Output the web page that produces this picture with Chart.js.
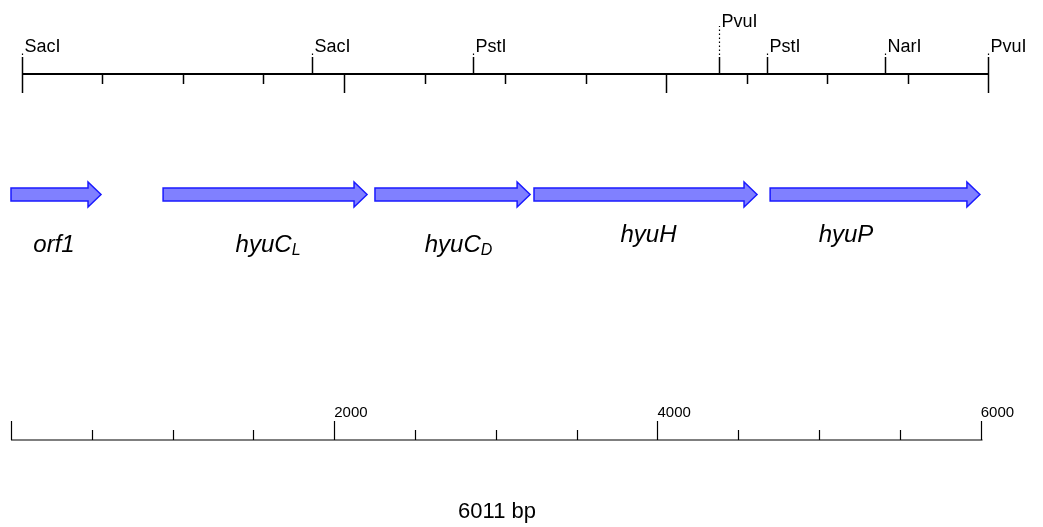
<!DOCTYPE html>
<html>
<head>
<meta charset="utf-8">
<script src="https://cdn.jsdelivr.net/npm/chart.js@4"></script>
<style>
  body { margin: 0; background: #fff; }
  canvas { display: block; }
</style>
</head>
<body>
<canvas id="mapa" width="1043" height="527"></canvas>
<script>
// plasmid length and restriction sites (bp)
var totalBp = 6011;
var siteNames = ['SacI', 'SacI', 'PstI', 'PvuI', 'PstI', 'NarI', 'PvuI'];
var sitePos = [0, 1801, 2801, 4329, 4627, 5360, 6000];

// genes (bp)
var geneNames = ['orf1', 'hyuC', 'hyuC', 'hyuH', 'hyuP'];
var geneSub = ['', 'L', 'D', '', ''];
var geneStart = [0, 941, 2252, 3236, 4697];
var geneEnd = [557, 2203, 3212, 4616, 5995];

// ruler
var tickStep = 500;
var rulerLabels = [2000, 4000, 6000];
var sizeLabel = '6011 bp';

window.addEventListener('load', function(){

    var FONT = '"Liberation Sans", Arial, sans-serif';
    // style only: which site label sits higher, label nudges for genes
    var raised = [false, false, false, true, false, false, false];
    var labelShift = [-2, 3, 6, 3, -29];
    var labelBase = [252, 252, 252, 242, 242];

    var mapPlugin = {
        id: 'mapa',
        afterDraw: function(chart){
            var ctx = chart.ctx;
            var xb = chart.scales.x;
            var xt = chart.scales.xt;
            ctx.save();
            ctx.strokeStyle = '#000';
            ctx.fillStyle = '#000';

            // top ruler
            var yTop = 74;
            ctx.lineWidth = 2;
            ctx.beginPath();
            ctx.moveTo(xt.getPixelForValue(0), yTop);
            ctx.lineTo(xt.getPixelForValue(6000), yTop);
            ctx.stroke();
            ctx.lineWidth = 1.5;
            for (var v = 0; v <= 6000; v += tickStep) {
                var x = Math.round(xt.getPixelForValue(v)) + 0.5;
                ctx.beginPath();
                ctx.moveTo(x, yTop);
                ctx.lineTo(x, yTop + (v % 2000 === 0 ? 19 : 10));
                ctx.stroke();
            }

            // restriction sites
            ctx.font = '18px ' + FONT;
            ctx.textBaseline = 'alphabetic';
            ctx.textAlign = 'left';
            siteNames.forEach(function(name, i){
                var x = Math.round(xt.getPixelForValue(sitePos[i])) + 0.5;
                var base = raised[i] ? 27 : 52;
                ctx.lineWidth = 1.5;
                ctx.setLineDash([]);
                ctx.beginPath();
                ctx.moveTo(x, yTop);
                ctx.lineTo(x, 57);
                ctx.stroke();
                ctx.lineWidth = 1.2;
                ctx.setLineDash([1.5, 2.5]);
                ctx.beginPath();
                ctx.moveTo(x, 55);
                ctx.lineTo(x, base - 1);
                ctx.stroke();
                ctx.setLineDash([]);
                ctx.fillText(name, x + 2, base);
            });

            // genes as arrows
            var yc = 194.5;
            geneNames.forEach(function(name, i){
                var x0 = xb.getPixelForValue(geneStart[i]);
                var x1 = xb.getPixelForValue(geneEnd[i]);
                var head = 13;
                ctx.beginPath();
                ctx.moveTo(x0, yc - 6.5);
                ctx.lineTo(x1 - head, yc - 6.5);
                ctx.lineTo(x1 - head, yc - 12.5);
                ctx.lineTo(x1, yc);
                ctx.lineTo(x1 - head, yc + 12.5);
                ctx.lineTo(x1 - head, yc + 6.5);
                ctx.lineTo(x0, yc + 6.5);
                ctx.closePath();
                ctx.fillStyle = '#8080ff';
                ctx.fill();
                ctx.lineWidth = 1.5;
                ctx.strokeStyle = '#1a1aff';
                ctx.stroke();

                // label
                ctx.fillStyle = '#000';
                var cx = (x0 + x1) / 2 + labelShift[i];
                ctx.font = 'italic 24px ' + FONT;
                var w = ctx.measureText(name).width;
                var subW = 0;
                if (geneSub[i]) {
                    ctx.font = 'italic 16px ' + FONT;
                    subW = ctx.measureText(geneSub[i]).width;
                }
                var left = cx - (w + subW) / 2;
                ctx.font = 'italic 24px ' + FONT;
                ctx.fillText(name, left, labelBase[i]);
                if (geneSub[i]) {
                    ctx.font = 'italic 16px ' + FONT;
                    ctx.fillText(geneSub[i], left + w, labelBase[i] + 3);
                }
            });

            // bottom ruler
            ctx.strokeStyle = '#000';
            var yBot = 440;
            ctx.lineWidth = 1.2;
            ctx.beginPath();
            ctx.moveTo(xb.getPixelForValue(0), yBot);
            ctx.lineTo(xb.getPixelForValue(totalBp), yBot);
            ctx.stroke();
            for (var b = 0; b <= 6000; b += tickStep) {
                var xx = Math.round(xb.getPixelForValue(b)) + 0.5;
                ctx.beginPath();
                ctx.moveTo(xx, yBot);
                ctx.lineTo(xx, yBot - (b % 2000 === 0 ? 19 : 10));
                ctx.stroke();
            }
            ctx.font = '15px ' + FONT;
            rulerLabels.forEach(function(r){
                ctx.fillText(String(r), xb.getPixelForValue(r), 417);
            });

            ctx.font = '22px ' + FONT;
            ctx.textAlign = 'center';
            ctx.fillText(sizeLabel, 497, 518);
            ctx.restore();
        }
    };

    var ctx = document.getElementById('mapa').getContext('2d');
    var chart = new Chart(ctx, {
        type: 'scatter',
        data: { datasets: [] },
        options: {
            responsive: false,
            animation: false,
            events: [],
            layout: { padding: { left: 11, right: 60.5, top: 0, bottom: 0 } },
            plugins: { legend: { display: false }, tooltip: { enabled: false } },
            scales: {
                x: { type: 'linear', min: 0, max: totalBp, display: false },
                xt: { type: 'linear', axis: 'x', position: 'top', min: -68.3, max: 5965.8, display: false },
                y: { min: 0, max: 1, display: false }
            }
        },
        plugins: [mapPlugin]
    });
});
</script>
</body>
</html>
